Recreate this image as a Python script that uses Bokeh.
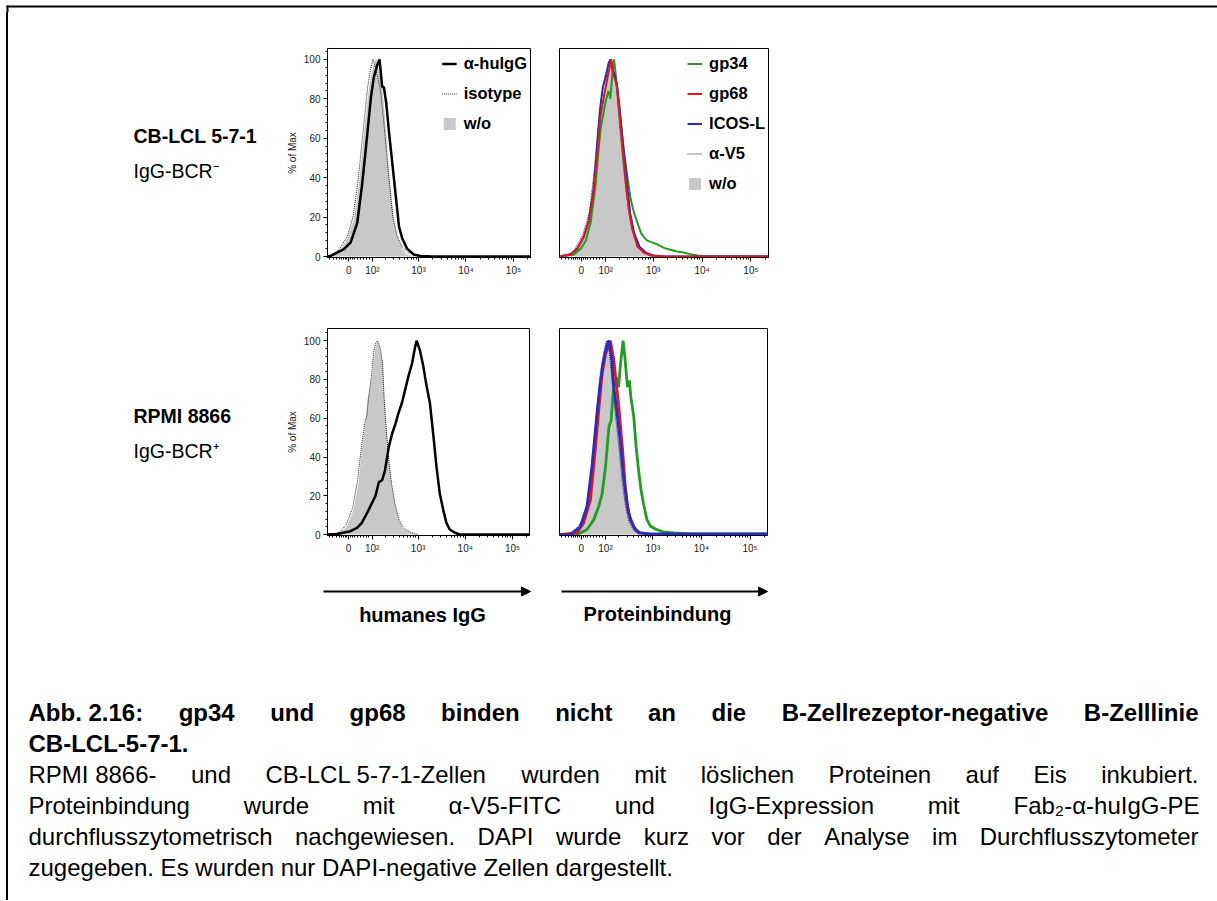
import math
from bokeh.plotting import figure
from bokeh.models import (Range1d, FixedTicker, SingleIntervalTicker, Legend, LegendItem,
                          Arrow, NormalHead)
from bokeh.layouts import column, row
from bokeh.embed import file_html
from bokeh.resources import INLINE
from bokeh.core.properties import value

FONT = "Liberation Sans"

# ---------------- data ----------------
# x values are in display units of the biexponential axis (10^n drawn at n, "0" at 1.53)
x_ticks = [1.53, 2.03, 3.0, 4.0, 5.0]
x_tick_labels = ["0", "10²", "10³", "10⁴", "10⁵"]

# CB-LCL 5-7-1, humanes IgG
tl_igg_x = [1.084, 1.15, 1.43, 1.57, 1.71, 1.81, 1.88, 1.95, 2.0, 2.06, 2.13, 2.18, 2.235, 2.27, 2.32, 2.375, 2.45, 2.52, 2.59, 2.66, 2.76, 2.9, 3.04, 3.3, 5.358]
tl_igg_y = [0, 0.3, 3.7, 7, 17, 36, 52, 69, 81, 91, 97, 100, 86, 86, 78, 64, 47, 31, 15, 9, 4, 1, 0.3, 0, 0]
tl_iso_x = [1.084, 1.2, 1.34, 1.5, 1.62, 1.72, 1.79, 1.86, 1.93, 1.99, 2.04, 2.08, 2.15, 2.2, 2.27, 2.33, 2.39, 2.46, 2.54, 2.65, 2.78, 2.95, 3.1, 5.358]
tl_iso_y = [0, 0.5, 4, 10, 20, 37, 53, 70, 86, 95, 100, 97, 90, 84, 68, 52, 36, 20, 11, 5, 2, 0.8, 0, 0]
tl_wo_x = [1.084, 1.2, 1.36, 1.5, 1.64, 1.74, 1.81, 1.88, 1.96, 2.02, 2.07, 2.12, 2.18, 2.235, 2.3, 2.35, 2.41, 2.48, 2.55, 2.66, 2.76, 2.9, 3.0]
tl_wo_y = [0, 0.5, 3.7, 9, 19, 36, 52, 69, 86, 94, 99, 100, 93, 86, 69, 52, 36, 19, 11, 4, 1, 0.3, 0]

# CB-LCL 5-7-1, Proteinbindung
tr_gp34_x = [1.084, 1.38, 1.52, 1.62, 1.72, 1.82, 1.92, 2.03, 2.085, 2.125, 2.165, 2.2, 2.235, 2.285, 2.33, 2.40, 2.47, 2.54, 2.61, 2.68, 2.75, 2.82, 2.88, 2.95, 3.08, 3.21, 3.35, 3.49, 3.62, 3.76, 3.90, 4.03, 5.358]
tr_gp34_y = [0, 1, 4, 8, 17, 36, 64, 79, 84, 80, 93, 100, 92, 80, 69, 54, 41, 29, 22, 17, 12, 9.6, 8, 7.4, 6.2, 4.5, 3.4, 2.5, 2, 1.2, 0.5, 0.2, 0]
tr_gp68_x = [1.084, 1.31, 1.45, 1.58, 1.68, 1.78, 1.86, 1.92, 1.99, 2.06, 2.10, 2.145, 2.185, 2.215, 2.25, 2.30, 2.37, 2.435, 2.50, 2.57, 2.68, 2.81, 2.95, 3.24, 5.358]
tr_gp68_y = [0, 1, 4, 10, 17, 32, 52, 71, 81, 90, 95, 100, 92, 90, 88, 76, 56, 39, 24, 14, 5, 2, 0.5, 0, 0]
tr_icos_x = [1.084, 1.31, 1.45, 1.58, 1.68, 1.78, 1.85, 1.91, 1.97, 2.04, 2.09, 2.125, 2.165, 2.215, 2.265, 2.32, 2.39, 2.46, 2.53, 2.61, 2.72, 2.85, 3.0, 3.24, 5.358]
tr_icos_y = [0, 1, 4, 10, 18, 34, 55, 74, 86, 92, 98, 100, 95, 92, 86, 74, 55, 38, 22, 12, 5, 2, 0.5, 0, 0]
tr_v5_x = [1.084, 1.36, 1.56, 1.70, 1.80, 1.87, 1.94, 2.01, 2.09, 2.14, 2.24, 2.31, 2.38, 2.45, 2.52, 2.62, 2.72, 2.86, 3.03]
tr_v5_y = [0, 2, 11, 23, 45, 65, 80, 91, 99, 100, 87, 67, 48, 32, 20, 10, 4.5, 1.2, 0]
tr_wo_x = [1.084, 1.38, 1.58, 1.72, 1.82, 1.89, 1.96, 2.03, 2.11, 2.16, 2.26, 2.33, 2.40, 2.47, 2.54, 2.64, 2.74, 2.88, 3.05]
tr_wo_y = [0, 2, 10, 22, 44, 64, 79, 90, 98, 100, 86, 66, 47, 31, 19, 9, 4, 1, 0]

# RPMI 8866, humanes IgG
bl_igg_x = [1.084, 1.29, 1.57, 1.71, 1.81, 1.92, 2.02, 2.1, 2.17, 2.24, 2.3, 2.38, 2.45, 2.52, 2.59, 2.66, 2.73, 2.8, 2.87, 2.94, 2.97, 3.04, 3.11, 3.17, 3.25, 3.32, 3.39, 3.46, 3.53, 3.6, 3.67, 3.78, 3.88, 5.358]
bl_igg_y = [0, 0.3, 1.7, 3.4, 6, 11, 16, 20, 27, 28, 33, 45, 52, 57, 63, 68, 75, 82, 88, 97, 100, 95, 87, 78, 68, 52, 35, 21, 13, 6, 2.6, 0.9, 0, 0]
bl_iso_x = [1.084, 1.2, 1.34, 1.48, 1.62, 1.72, 1.8, 1.87, 1.92, 1.95, 2.02, 2.06, 2.11, 2.14, 2.2, 2.25, 2.28, 2.33, 2.39, 2.44, 2.51, 2.59, 2.7, 2.85, 3.0]
bl_iso_y = [0, 0.3, 1.2, 5, 14, 28, 45, 57, 62, 70, 83, 94, 99, 100, 96, 88, 71, 53, 36, 26, 16, 8, 3, 1, 0]
bl_wo_x = [1.084, 1.2, 1.36, 1.5, 1.64, 1.74, 1.81, 1.88, 1.93, 2.03, 2.07, 2.12, 2.15, 2.21, 2.26, 2.29, 2.34, 2.4, 2.45, 2.52, 2.59, 2.69, 2.83, 2.97]
bl_wo_y = [0, 0.3, 1, 4.3, 13, 27, 44, 56, 69, 82, 93, 98, 100, 95, 87, 70, 52, 35, 25, 15, 8, 2.6, 0.9, 0]

# RPMI 8866, Proteinbindung
br_gp34_x = [1.084, 1.45, 1.65, 1.79, 1.89, 1.96, 2.03, 2.10, 2.145, 2.195, 2.26, 2.30, 2.33, 2.39, 2.43, 2.48, 2.52, 2.55, 2.61, 2.66, 2.71, 2.76, 2.81, 2.88, 2.95, 3.08, 3.21, 3.42, 3.76, 5.358]
br_gp34_y = [0, 0, 2.6, 7.7, 14.5, 21, 35, 55.6, 59, 76, 81, 76, 86, 100, 91, 76, 79.5, 71, 60.7, 45, 33, 23, 16, 7.7, 4.3, 2.6, 1.4, 0.9, 0.3, 0.3]
br_gp68_x = [1.084, 1.45, 1.58, 1.72, 1.82, 1.89, 1.96, 2.03, 2.13, 2.20, 2.31, 2.38, 2.435, 2.50, 2.61, 2.71, 2.95, 5.358]
br_gp68_y = [0, 1, 6, 18, 44, 64, 83, 93, 100, 90, 64, 44, 25, 11, 4, 1, 0, 0]
br_icos_x = [1.084, 1.30, 1.51, 1.65, 1.75, 1.86, 1.92, 1.99, 2.06, 2.10, 2.16, 2.19, 2.26, 2.33, 2.40, 2.47, 2.54, 2.64, 2.74, 2.95, 5.358]
br_icos_y = [0, 0, 4, 14.5, 35, 64, 78, 90, 98, 100, 90, 78, 64, 49, 30, 16, 7.7, 2.6, 0.9, 0.3, 0.3]
br_v5_x = [1.084, 1.35, 1.55, 1.69, 1.79, 1.86, 1.93, 2.0, 2.05, 2.09, 2.13, 2.2, 2.27, 2.32, 2.37, 2.44, 2.51, 2.61, 2.72]
br_v5_y = [0, 0.5, 7, 20, 46, 66, 85, 95, 100, 98, 88, 70, 53, 41, 27, 15, 6.5, 2, 0]
br_wo_x = [1.084, 1.38, 1.58, 1.72, 1.82, 1.89, 1.96, 2.03, 2.08, 2.12, 2.16, 2.23, 2.30, 2.35, 2.40, 2.47, 2.54, 2.64, 2.74]
br_wo_y = [0, 0, 6, 18, 44, 64, 83, 93, 99, 100, 86, 69, 52, 40, 26, 14, 6, 1.7, 0]

row_titles = ["CB-LCL 5-7-1", "RPMI 8866"]
row_subtitles = ["IgG-BCR⁻", "IgG-BCR⁺"]
igg_labels = ["α-huIgG", "isotype", "w/o"]
prot_labels = ["gp34", "gp68", "ICOS-L", "α-V5", "w/o"]
axis_captions = ["humanes IgG", "Proteinbindung"]

caption_bold1 = ["Abb. 2.16:", "gp34", "und", "gp68", "binden", "nicht", "an", "die",
                 "B-Zellrezeptor-negative", "B-Zelllinie"]
caption_bold2 = "CB-LCL-5-7-1."
caption_body1 = ["RPMI 8866-", "und", "CB-LCL 5-7-1-Zellen", "wurden", "mit", "löslichen",
                 "Proteinen", "auf", "Eis", "inkubiert."]
caption_body2 = ["Proteinbindung", "wurde", "mit", "α-V5-FITC", "und", "IgG-Expression", "mit",
                 "Fab₂-α-huIgG-PE"]
caption_body3 = ["durchflusszytometrisch", "nachgewiesen.", "DAPI", "wurde", "kurz", "vor", "der",
                 "Analyse", "im", "Durchflusszytometer"]
caption_body4 = "zugegeben. Es wurden nur DAPI-negative Zellen dargestellt."

GREEN, RED, BLUE = "#1f9e1f", "#e8141c", "#2a2ac8"
GREY_FILL = "#c8c8c8"
DOT = "#222222"

# ---------------- text metrics (Arial / Liberation Sans, per 1000 em) ----------------
REG = dict(zip(" -.,:0123456789", [278, 333, 278, 278, 278] + [556] * 10))
REG.update(dict(zip("ABCDEFGHIJKLMNOPQRSTUVWXYZ",
                    [667, 667, 722, 722, 667, 611, 778, 722, 278, 500, 667, 556, 833, 722, 778, 667,
                     778, 722, 667, 611, 722, 667, 944, 667, 667, 611])))
REG.update(dict(zip("abcdefghijklmnopqrstuvwxyz",
                    [556, 556, 500, 556, 556, 278, 556, 556, 222, 222, 500, 222, 833, 556, 556, 556,
                     556, 333, 500, 278, 556, 500, 722, 500, 500, 500])))
REG.update({"ö": 556, "ä": 556, "ü": 556, "α": 578, "₂": 350})
BOLD = dict(zip(" -.,:0123456789", [278, 333, 278, 278, 333] + [556] * 10))
BOLD.update(dict(zip("ABCDEFGHIJKLMNOPQRSTUVWXYZ",
                     [722, 722, 722, 722, 667, 611, 778, 722, 278, 556, 722, 611, 833, 722, 778, 667,
                      778, 722, 667, 611, 722, 667, 944, 667, 667, 611])))
BOLD.update(dict(zip("abcdefghijklmnopqrstuvwxyz",
                     [556, 611, 556, 611, 556, 333, 611, 611, 278, 278, 556, 278, 889, 611, 611, 611,
                      611, 389, 556, 333, 611, 556, 778, 556, 556, 500])))


def text_w(s, size, bold):
    tab = BOLD if bold else REG
    return sum(tab.get(c, 556) for c in s) * size / 1000.0


def justify(words, left, right, size, bold):
    ws = [text_w(w, size, bold) for w in words]
    gap = (right - left - sum(ws)) / (len(words) - 1)
    xs, x = [], left
    for w in ws:
        xs.append(x)
        x += w + gap
    return xs


# ---------------- helpers ----------------
def canvas(x0, x1, y0, y1, **kw):
    """A plain drawing area whose data coordinates equal page pixels (y downwards)."""
    p = figure(x_range=Range1d(x0, x1), y_range=Range1d(y1, y0),
               toolbar_location=None, tools="", output_backend="svg",
               x_axis_type=None, y_axis_type=None, **kw)
    p.grid.visible = False
    p.outline_line_color = None
    p.background_fill_color = "white"
    p.border_fill_color = "white"
    return p


minor_x = [1.13, 1.2, 1.27, 1.33, 1.38, 1.42, 1.46, 1.49, 1.57, 1.61, 1.66, 1.72, 1.78, 1.84,
           1.9, 1.96] + [n + math.log10(k) for n in (2, 3, 4) for k in range(2, 10)
                        if n + math.log10(k) > 2.06] + [5.30]


def hist_fig(fw, fh, mbl, mbr, mbt, mbb, ytop, show_y):
    p = figure(frame_width=fw, frame_height=fh, min_border_left=mbl, min_border_right=mbr,
               min_border_top=mbt, min_border_bottom=mbb,
               x_range=Range1d(1.084, 5.358), y_range=Range1d(-0.5, ytop),
               toolbar_location=None, tools="", output_backend="svg")
    p.grid.visible = False
    p.outline_line_color = "black"
    p.outline_line_width = 1
    p.background_fill_color = "white"
    p.border_fill_color = "white"
    xa = p.xaxis[0]
    xa.ticker = FixedTicker(ticks=x_ticks, minor_ticks=minor_x)
    xa.major_label_overrides = {float(t): l for t, l in zip(x_ticks, x_tick_labels)}
    xa.major_label_text_font = FONT
    xa.major_label_text_font_size = "10px"
    xa.major_label_text_color = "#222222"
    xa.major_tick_out = 4
    xa.major_tick_in = 0
    xa.minor_tick_out = 2
    xa.minor_tick_in = 0
    xa.major_label_standoff = 3
    xa.axis_line_color = "black"
    if show_y:
        ya = p.yaxis[0]
        ya.ticker = SingleIntervalTicker(interval=20, num_minor_ticks=5)
        ya.axis_label = "% of Max"
        ya.axis_label_text_font = FONT
        ya.axis_label_text_font_size = "10px"
        ya.axis_label_text_font_style = "normal"
        ya.axis_label_text_color = "#222222"
        ya.axis_label_standoff = 3
        ya.major_label_text_font = FONT
        ya.major_label_text_font_size = "10px"
        ya.major_label_text_color = "#222222"
        ya.major_tick_out = 4
        ya.major_tick_in = 0
        ya.minor_tick_out = 2
        ya.minor_tick_in = 0
        ya.major_label_standoff = 3
    else:
        p.yaxis.visible = False
    return p


def add_legend(p, items):
    lg = Legend(items=items, location="top_right", border_line_color=None,
                background_fill_alpha=0, label_text_font=FONT, label_text_font_style="bold",
                label_text_font_size="16.5px", label_text_color="black",
                glyph_width=15, glyph_height=15, label_height=24, spacing=6,
                padding=5, margin=3, label_standoff=7)
    p.add_layout(lg)


def igg_panel(fw, fh, mbl, mbr, mbt, mbb, ytop, ig_x, ig_y, iso_x, iso_y, wo_x, wo_y, legend):
    p = hist_fig(fw, fh, mbl, mbr, mbt, mbb, ytop, True)
    g = p.varea(x=wo_x, y1=0, y2=wo_y, fill_color=GREY_FILL)
    d = p.line(iso_x, iso_y, line_color=DOT, line_width=1, line_dash="1 1")
    b = p.line(ig_x, ig_y, line_color="black", line_width=2.5)
    if legend:
        add_legend(p, [LegendItem(label=igg_labels[0], renderers=[b]),
                       LegendItem(label=igg_labels[1], renderers=[d]),
                       LegendItem(label=igg_labels[2], renderers=[g])])
    return p


def prot_panel(fw, fh, mbl, mbr, mbt, mbb, ytop, data, lw, blue_on_top, legend):
    (g34x, g34y, g68x, g68y, icx, icy, v5x, v5y, wox, woy) = data
    p = hist_fig(fw, fh, mbl, mbr, mbt, mbb, ytop, False)
    g = p.varea(x=wox, y1=0, y2=woy, fill_color=GREY_FILL)
    d = p.line(v5x, v5y, line_color=DOT, line_width=1, line_dash="1 1")
    gr = p.line(g34x, g34y, line_color=GREEN, line_width=lw)
    if blue_on_top:
        r = p.line(g68x, g68y, line_color=RED, line_width=lw)
        bl = p.line(icx, icy, line_color=BLUE, line_width=lw)
    else:
        bl = p.line(icx, icy, line_color=BLUE, line_width=lw)
        r = p.line(g68x, g68y, line_color=RED, line_width=lw)
    if legend:
        add_legend(p, [LegendItem(label=prot_labels[0], renderers=[gr]),
                       LegendItem(label=prot_labels[1], renderers=[r]),
                       LegendItem(label=prot_labels[2], renderers=[bl]),
                       LegendItem(label=prot_labels[3], renderers=[d]),
                       LegendItem(label=prot_labels[4], renderers=[g])])
    return p


def txt(p, x, y, s, size, bold=False, align="left"):
    p.text(x=[x], y=[y], text=[s], text_font=value(FONT), text_font_size=size,
           text_font_style="bold" if bold else "normal", text_color="black",
           text_align=align, text_baseline="middle")


# ---------------- top strip (page y 0..12) with the frame's top border ----------------
top = canvas(0, 1217, 0, 12, width=1217, height=12, min_border=0)
top.segment(x0=[6], y0=[6], x1=[1217], y1=[6], line_color="black", line_width=2)
top.segment(x0=[7], y0=[5], x1=[7], y1=[12], line_color="black", line_width=2)

# ---------------- row A (page y 12..300) ----------------
labA = canvas(8, 280, 48, 257, frame_width=272, frame_height=209, min_border_left=0,
              min_border_right=0, min_border_top=36, min_border_bottom=43)
txt(labA, 133, 135, row_titles[0], "19.5px", bold=True)
txt(labA, 133, 170, row_subtitles[0], "19.5px")

tl = igg_panel(203, 209, 47, 15, 36, 43, 105.5, tl_igg_x, tl_igg_y, tl_iso_x, tl_iso_y,
               tl_wo_x, tl_wo_y, True)
tr = prot_panel(209, 209, 14, 17, 36, 43, 105.5,
                (tr_gp34_x, tr_gp34_y, tr_gp68_x, tr_gp68_y, tr_icos_x, tr_icos_y,
                 tr_v5_x, tr_v5_y, tr_wo_x, tr_wo_y), 2, False, True)

# ---------------- row B (page y 300..560) ----------------
labB = canvas(8, 280, 328, 535, frame_width=272, frame_height=207, min_border_left=0,
              min_border_right=0, min_border_top=28, min_border_bottom=25)
txt(labB, 133, 415, row_titles[1], "19.5px", bold=True)
txt(labB, 133, 450, row_subtitles[1], "19.5px")

bl = igg_panel(202, 207, 47, 16, 28, 25, 106.3, bl_igg_x, bl_igg_y, bl_iso_x, bl_iso_y,
               bl_wo_x, bl_wo_y, False)
br = prot_panel(208, 207, 14, 18, 28, 25, 106.3,
                (br_gp34_x, br_gp34_y, br_gp68_x, br_gp68_y, br_icos_x, br_icos_y,
                 br_v5_x, br_v5_y, br_wo_x, br_wo_y), 2.8, True, False)

# ---------------- row C: arrows and caption (page y 560..900) ----------------
cap = canvas(8, 1217, 560, 900, width=1209, height=340, min_border=0)
for (xs, xe, xc, yc, label) in [(323, 530, 422, 614, axis_captions[0]),
                                (561, 767, 657, 613, axis_captions[1])]:
    cap.add_layout(Arrow(end=NormalHead(size=9, fill_color="black", line_color="black"),
                         x_start=xs, y_start=591, x_end=xe, y_end=591,
                         line_color="black", line_width=2))
    txt(cap, xc, yc, label, "20px", bold=True, align="center")

CAP_SIZE = 24
L, R = 28, 1198
line_y = [712, 743, 774, 805, 836, 867]
for words, bold, y in [(caption_bold1, True, line_y[0]), (caption_body1, False, line_y[2]),
                       (caption_body2, False, line_y[3]), (caption_body3, False, line_y[4])]:
    xs = justify(words, L, R, CAP_SIZE, bold)
    cap.text(x=xs, y=[y] * len(words), text=words, text_font=value(FONT),
             text_font_size=f"{CAP_SIZE}px", text_font_style="bold" if bold else "normal",
             text_color="black", text_align="left", text_baseline="middle")
txt(cap, L, line_y[1], caption_bold2, f"{CAP_SIZE}px", bold=True)
txt(cap, L, line_y[5], caption_body4, f"{CAP_SIZE}px")

body = column(row(labA, tl, tr, spacing=0), row(labB, bl, br, spacing=0), cap, spacing=0,
              styles={"border-left": "2px solid black", "margin-left": "6px"})
layout = column(top, body, spacing=0)

open("out.html", "w").write(file_html(layout, INLINE))
